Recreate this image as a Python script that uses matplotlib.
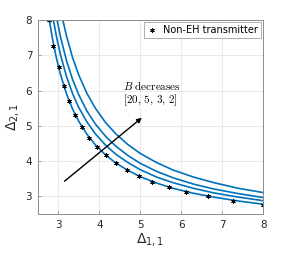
import matplotlib
matplotlib.use("Agg")
import matplotlib.pyplot as plt

plt.rcParams['font.family'] = 'DejaVu Sans'
plt.rcParams['mathtext.fontset'] = 'cm'

# ---------------------------------------------------------------------------
# DATA
# ---------------------------------------------------------------------------
# four blue curves, B = 20, 5, 3, 2 (lowest to highest)
b20_x = [2.78, 2.85, 2.95, 3.05, 3.2, 3.35, 3.5, 3.7, 3.9, 4.15, 4.4, 4.7, 5.0, 5.4, 5.8, 6.3, 6.8, 7.4, 8.0]
b20_y = [8.00, 7.52, 6.94, 6.47, 5.91, 5.47, 5.13, 4.76, 4.47, 4.18, 3.95, 3.74, 3.56, 3.38, 3.23, 3.09, 2.98, 2.87, 2.78]

b5_x = [2.88, 2.95, 3.05, 3.2, 3.35, 3.5, 3.7, 3.9, 4.15, 4.4, 4.7, 5.0, 5.4, 5.8, 6.3, 6.8, 7.4, 8.0]
b5_y = [8.00, 7.56, 7.03, 6.40, 5.91, 5.52, 5.11, 4.78, 4.46, 4.20, 3.96, 3.76, 3.55, 3.39, 3.23, 3.10, 2.98, 2.88]

b3_x = [2.97, 3.05, 3.2, 3.35, 3.5, 3.7, 3.9, 4.15, 4.4, 4.7, 5.0, 5.4, 5.8, 6.3, 6.8, 7.4, 8.0]
b3_y = [8.00, 7.54, 6.85, 6.31, 5.88, 5.42, 5.06, 4.71, 4.43, 4.16, 3.94, 3.71, 3.53, 3.35, 3.21, 3.08, 2.97]

b2_x = [3.11, 3.2, 3.35, 3.5, 3.7, 3.9, 4.15, 4.4, 4.7, 5.0, 5.4, 5.8, 6.3, 6.8, 7.4, 8.0]
b2_y = [8.00, 7.55, 6.93, 6.44, 5.92, 5.51, 5.10, 4.78, 4.47, 4.22, 3.96, 3.75, 3.55, 3.39, 3.23, 3.11]

# non-EH transmitter markers
neh_x = [2.78, 2.88, 3.01, 3.13, 3.26, 3.41, 3.57, 3.75, 3.94, 4.16, 4.41, 4.67, 4.98, 5.30, 5.70, 6.13, 6.65, 7.26, 7.99]
neh_y = [8.00, 7.27, 6.66, 6.13, 5.70, 5.31, 4.98, 4.67, 4.41, 4.17, 3.95, 3.75, 3.58, 3.42, 3.26, 3.13, 3.00, 2.88, 2.77]

# ---------------------------------------------------------------------------
# PLOT
# ---------------------------------------------------------------------------
fig = plt.figure(figsize=(2.91, 2.57), dpi=100)
ax = fig.add_axes([0.130, 0.167, 0.774, 0.755])

blue = '#0072BD'
for xs, ys in [(b20_x, b20_y), (b5_x, b5_y), (b3_x, b3_y), (b2_x, b2_y)]:
    ax.plot(xs, ys, color=blue, lw=1.2)

ax.plot(neh_x, neh_y, ls='none', marker=(6, 2, 0), ms=3.2, mew=0.6,
        color='black', label='Non-EH transmitter')

# arrow + annotation
ax.annotate('', xy=(5.04, 5.23), xytext=(3.15, 3.43),
            arrowprops=dict(arrowstyle='-|>', color='black', lw=1.0,
                            mutation_scale=7, shrinkA=0, shrinkB=0))
ax.text(4.59, 6.14, r'$B\ \mathrm{decreases}$', fontsize=8, ha='left', va='center')
ax.text(4.57, 5.72, r'$[20,\,5,\,3,\,2]$', fontsize=8, ha='left', va='center')

ax.set_xlim(2.5, 8)
ax.set_ylim(2.5, 8)
ax.set_xticks([3, 4, 5, 6, 7, 8])
ax.set_yticks([3, 4, 5, 6, 7, 8])
ax.grid(True, color='#e6e6e6', lw=0.6)
ax.set_axisbelow(True)
for s in ax.spines.values():
    s.set_color('#8c8c8c')
    s.set_linewidth(0.7)
ax.tick_params(direction='in', length=2.5, width=0.6, color='#8c8c8c',
               labelsize=7.5, labelcolor='#262626', pad=4)

ax.set_xlabel(r'$\Delta_{1,1}$', fontsize=10, color='#262626', labelpad=1,
              math_fontfamily='dejavusans')
ax.set_ylabel(r'$\Delta_{2,1}$', fontsize=10, color='#262626', labelpad=3,
              math_fontfamily='dejavusans')

leg = ax.legend(loc='upper right', fontsize=7, frameon=True, fancybox=False,
                edgecolor='#8c8c8c', handlelength=1.0, handletextpad=0.6,
                borderpad=0.3, borderaxespad=0.25)
leg.get_frame().set_linewidth(0.6)

fig.savefig('out.png', dpi=100)
